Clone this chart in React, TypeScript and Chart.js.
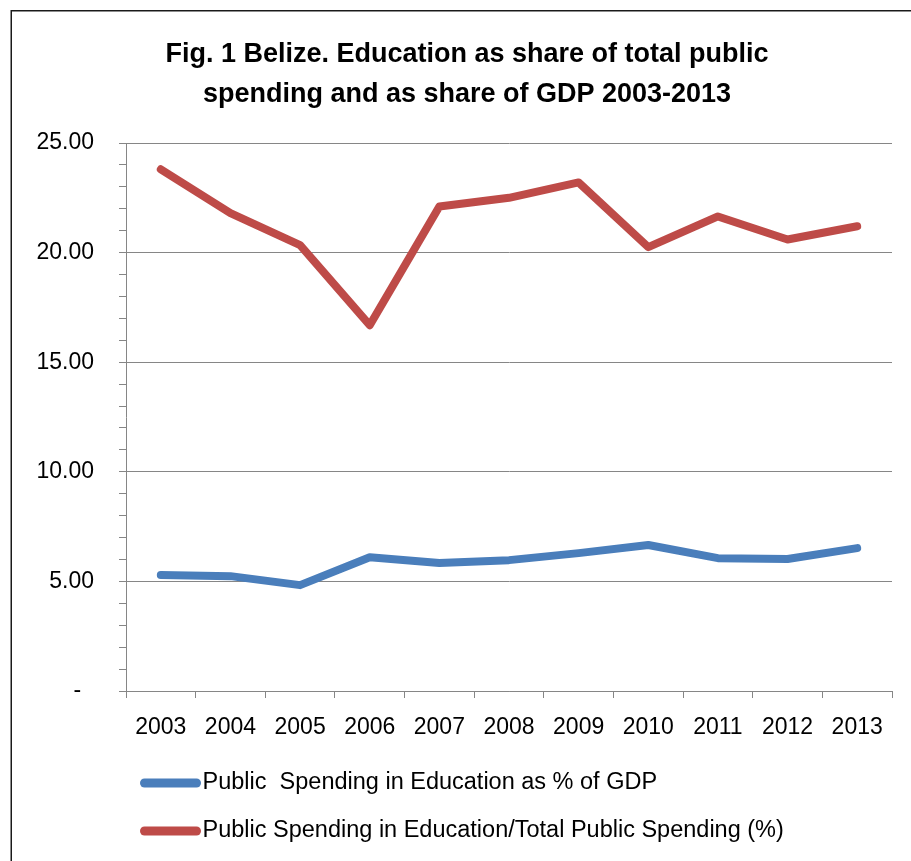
import React, { useEffect, useRef } from 'react';
import { Chart, registerables } from 'chart.js';

Chart.register(...registerables);

const years = ['2003', '2004', '2005', '2006', '2007', '2008', '2009', '2010', '2011', '2012', '2013'];
const gdpShare = [5.29, 5.24, 4.83, 6.1, 5.84, 5.97, 6.29, 6.66, 6.06, 6.02, 6.52];
const totalSpendingShare = [23.8, 21.8, 20.34, 16.69, 22.1, 22.5, 23.2, 20.25, 21.65, 20.6, 21.2];
const seriesLabels = [
  'Public  Spending in Education as % of GDP',
  'Public Spending in Education/Total Public Spending (%)',
];
const seriesColors = ['#4A7EBB', '#BE4B48'];
const titleLines = [
  'Fig. 1 Belize. Education as share of total public',
  'spending and as share of GDP 2003-2013',
];
const yMin = 0;
const yMax = 25;
const yMajorStep = 5;
const yMinorStep = 1;

const FONT = "'Liberation Sans', Arial, sans-serif";
const GRID = '#868686';
const Y_AXIS_WIDTH = 116;
const TITLE_INSET = 32;

const framePlugin = {
  id: 'frame',
  afterLayout(chart: any) {
    const t = chart.titleBlock;
    if (t) {
      t.left = chart.chartArea.left - Y_AXIS_WIDTH + TITLE_INSET;
      t.width = t.right - t.left;
    }
  },
  beforeDraw(chart: any) {
    const { ctx, width, height } = chart;
    ctx.save();
    ctx.fillStyle = '#ffffff';
    ctx.fillRect(0, 0, width, height);
    ctx.restore();
  },
  afterDraw(chart: any) {
    const { ctx, width, height } = chart;
    ctx.save();
    ctx.strokeStyle = '#1a1a1a';
    ctx.lineWidth = 1.5;
    ctx.beginPath();
    ctx.moveTo(11.25, height + 5);
    ctx.lineTo(11.25, 10.75);
    ctx.lineTo(width + 5, 10.75);
    ctx.stroke();
    ctx.restore();
  },
};

const legendPlugin = {
  id: 'excelLegend',
  afterDraw(chart: any) {
    const { ctx, chartArea } = chart;
    const datasets = chart.data.datasets;
    ctx.save();
    ctx.font = `23.5px ${FONT}`;
    ctx.textBaseline = 'middle';
    ctx.textAlign = 'left';
    datasets.forEach((ds: any, i: number) => {
      const y = chartArea.bottom + 92 + i * 48;
      const x0 = chartArea.left + 18.5;
      ctx.strokeStyle = ds.borderColor;
      ctx.lineWidth = 9;
      ctx.lineCap = 'round';
      ctx.beginPath();
      ctx.moveTo(x0, y);
      ctx.lineTo(x0 + 52, y);
      ctx.stroke();
      ctx.fillStyle = '#000000';
      ctx.fillText(ds.label, x0 + 58, y);
    });
    ctx.restore();
  },
};

export default function App() {
  const canvasRef = useRef<HTMLCanvasElement | null>(null);

  useEffect(() => {
    const canvas = canvasRef.current;
    if (!canvas) return;
    const chart = new Chart(canvas, {
      type: 'line',
      data: {
        labels: years,
        datasets: [
          {
            label: seriesLabels[0],
            data: gdpShare,
            borderColor: seriesColors[0],
            backgroundColor: seriesColors[0],
            borderWidth: 8,
            borderCapStyle: 'round',
            borderJoinStyle: 'round',
            pointRadius: 0,
            tension: 0,
          },
          {
            label: seriesLabels[1],
            data: totalSpendingShare,
            borderColor: seriesColors[1],
            backgroundColor: seriesColors[1],
            borderWidth: 8,
            borderCapStyle: 'round',
            borderJoinStyle: 'round',
            pointRadius: 0,
            tension: 0,
          },
        ],
      },
      options: {
        responsive: false,
        animation: false,
        devicePixelRatio: 1,
        layout: { padding: { left: 10, right: 19, top: 0, bottom: 120 } },
        plugins: {
          legend: { display: false },
          tooltip: { enabled: false },
          title: {
            display: true,
            text: titleLines,
            color: '#000000',
            font: { family: FONT, size: 27, weight: 'bold', lineHeight: '40px' },
            padding: { top: 35, bottom: 28 },
          },
        },
        scales: {
          x: {
            type: 'category',
            offset: true,
            grid: {
              offset: true,
              drawOnChartArea: false,
              drawTicks: true,
              tickLength: 7,
              color: GRID,
              lineWidth: 1,
            },
            border: { display: true, color: GRID, width: 1 },
            ticks: {
              color: '#000000',
              font: { family: FONT, size: 23 },
              padding: 16,
              maxRotation: 0,
              autoSkip: false,
            },
            afterFit: (scale: any) => {
              scale.height = 50;
            },
          },
          y: {
            min: yMin,
            max: yMax,
            grid: {
              color: (c: any) => (c.tick && c.tick.value % yMajorStep === 0 ? GRID : 'rgba(0,0,0,0)'),
              tickColor: GRID,
              tickLength: 7,
              lineWidth: 1,
              drawTicks: true,
            },
            border: { display: true, color: GRID, width: 1 },
            ticks: {
              stepSize: yMinorStep,
              autoSkip: false,
              color: '#000000',
              font: { family: FONT, size: 23 },
              padding: 25,
              callback: (v: any) => {
                const n = Number(v);
                if (n % yMajorStep !== 0) return '';
                return n === 0 ? '-  ' : n.toFixed(2);
              },
            },
            afterFit: (scale: any) => {
              scale.width = Y_AXIS_WIDTH;
            },
          },
        },
      },
      plugins: [framePlugin, legendPlugin],
    } as any);
    return () => chart.destroy();
  }, []);

  return (
    <div style={{ position: 'fixed', left: 0, top: 0, width: 911, height: 861, background: '#fff' }}>
      <canvas ref={canvasRef} width={911} height={861} style={{ display: 'block', width: 911, height: 861 }} />
    </div>
  );
}
